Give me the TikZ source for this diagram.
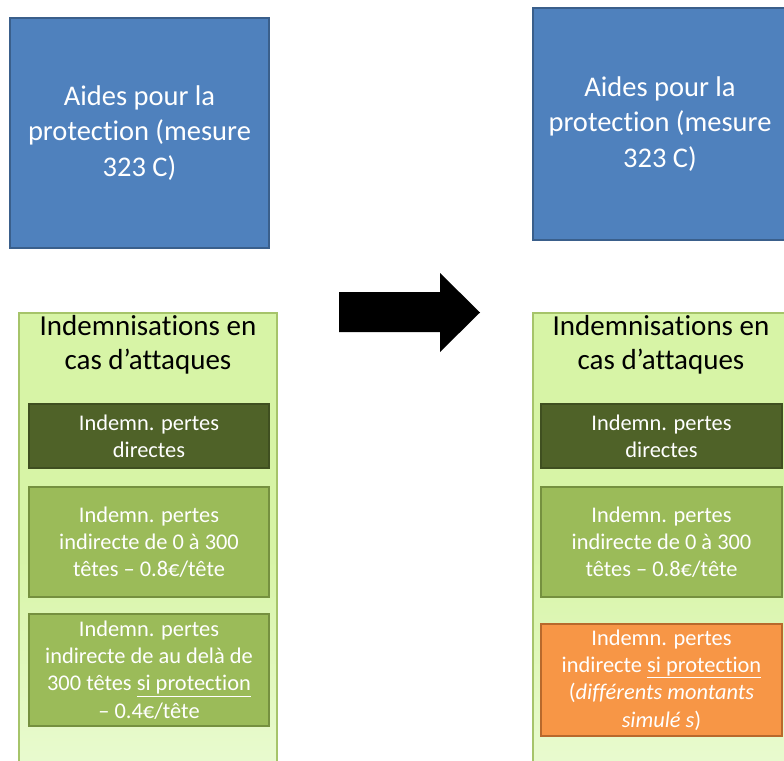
\documentclass[tikz,border=0pt]{standalone}
\usepackage{fontspec}
\setmainfont{Carlito}[Ligatures=NoCommon]
\definecolor{blueF}{HTML}{4F81BD}
\definecolor{blueD}{HTML}{3A5F8B}
\definecolor{greenT}{HTML}{D7F4A6}
\definecolor{greenB}{HTML}{EAFBD2}
\definecolor{greenBorder}{HTML}{A6C46A}
\definecolor{darkF}{HTML}{4F6228}
\definecolor{darkD}{HTML}{3F4F20}
\definecolor{midF}{HTML}{9BBB59}
\definecolor{midD}{HTML}{75903F}
\definecolor{orF}{HTML}{F79646}
\definecolor{orD}{HTML}{B8692C}
\begin{document}
\begin{tikzpicture}[x=1pt,y=-1pt,
  bluebox/.style={draw=blueD,fill=blueF,line width=2.5pt,inner sep=0pt,text=white,
    align=center,font=\fontsize{28.5}{35.5}\selectfont},
  container/.style={draw=greenBorder,line width=1.2pt,top color=greenT,bottom color=greenB,
    middle color=greenT,inner sep=0pt},
  title/.style={align=center,text=black,font=\fontsize{29}{34}\selectfont},
  inner/.style={line width=2.5pt,inner sep=0pt,text=white,align=center,
    font=\fontsize{22.4}{27.3}\selectfont},
  darkbox/.style={inner,draw=darkD,fill=darkF},
  midbox/.style={inner,draw=midD,fill=midF},
  orbox/.style={inner,draw=orD,fill=orF},
  bigarrow/.style={fill=black}
]
\useasboundingbox (0,0) rectangle (784,760);
\clip (0,0) rectangle (784,760);
% left column
\node[bluebox,minimum width=259pt,minimum height=230pt] (aidL) at (139.5,133)
  {Aides pour la\\protection (mesure\\323 C)};
\node[container,minimum width=258pt,minimum height=467pt] (contL) at (148,546.5) {};
\node[title] (titL) at (148,345) {Indemnisations en\\cas d’attaques};
\node[darkbox,minimum width=240pt,minimum height=64pt] (dirL) at (149,436)
  {Indemn. pertes\\directes};
\node[midbox,minimum width=240pt,minimum height=110pt] (indL) at (149,542)
  {Indemn. pertes\\indirecte de 0 à 300\\têtes – 0.8€/tête};
\node[midbox,minimum width=240pt,minimum height=112pt] (protL) at (149,670)
  {Indemn. pertes\\indirecte de au delà de\\300 têtes \underline{si protection}\\– 0.4€/tête};
% arrow
\fill[bigarrow] (339,292) -- (440,292) -- (440,273) -- (480,312.5) -- (440,352)
  -- (440,332) -- (339,332) -- cycle;
% right column
\node[bluebox,minimum width=254pt,minimum height=232pt] (aidR) at (660,124)
  {Aides pour la\\protection (mesure\\323 C)};
\node[container,minimum width=267pt,minimum height=467pt] (contR) at (666.5,546.5) {};
\node[title] (titR) at (661,345) {Indemnisations en\\cas d’attaques};
\node[darkbox,minimum width=241pt,minimum height=64pt] (dirR) at (661.5,436)
  {Indemn. pertes\\directes};
\node[midbox,minimum width=241pt,minimum height=110pt] (indR) at (661.5,542)
  {Indemn. pertes\\indirecte de 0 à 300\\têtes – 0.8€/tête};
\node[orbox,minimum width=241pt,minimum height=112pt] (protR) at (661.5,680)
  {Indemn. pertes\\indirecte \underline{si protection}\\(\textit{différents montants}\\\textit{simulé s})};
\end{tikzpicture}
\end{document}
